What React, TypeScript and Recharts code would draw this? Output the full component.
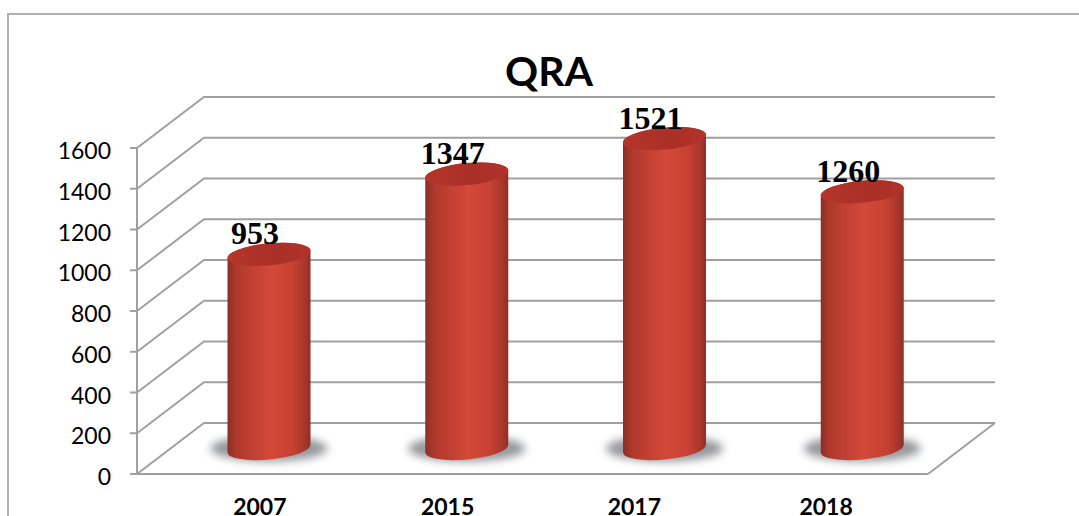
import React from 'react';
import { BarChart, Bar, XAxis, YAxis, CartesianGrid, LabelList } from 'recharts';

const years = ['2007', '2015', '2017', '2018'];
const counts = [953, 1347, 1521, 1260];
const yTicks = [0, 200, 400, 600, 800, 1000, 1200, 1400, 1600];

const tableData = years.map((year, i) => ({ year, count: counts[i] }));

const GRID = '#a0a0a0';
const DEPTH_X = 67;
const DEPTH_Y = 51;
const TILT = 4;
const RY = 11;
const ANGLE = -5.5;
// the year labels sit unevenly under the bars in the original
const TICK_NUDGE = [24, 14, 3, -3];

const gridLine = (props: any) => {
    const { x1, x2, y1, index } = props;
    const isFloor = y1 > 470;
    return (
        <g key={`grid-${index}`} fill="none" stroke={GRID} strokeWidth={2}>
            <path d={`M${x1},${y1} L${x1 + DEPTH_X},${y1 - DEPTH_Y} L${x2 + DEPTH_X},${y1 - DEPTH_Y}`} />
            {isFloor && <path d={`M${x2},${y1} L${x2 + DEPTH_X},${y1 - DEPTH_Y}`} />}
        </g>
    );
};

const Cylinder = (props: any) => {
    const { x, y, width, height } = props;
    const rx = width / 2;
    const cx = x + rx + DEPTH_X / 2;
    const top = y - DEPTH_Y / 2;
    const base = y + height - DEPTH_Y / 2;
    const r = Math.hypot(rx, TILT);
    const left = cx - rx;
    const right = cx + rx;
    return (
        <g>
            <ellipse cx={cx} cy={base} rx={rx + 17} ry={RY + 2} fill="#7c7e82" opacity={0.8} filter="url(#baseShadow)" />
            <path
                d={`M${left},${top + TILT} L${left},${base + TILT} A${r},${RY} ${ANGLE} 0 0 ${right},${base - TILT} L${right},${top - TILT} A${r},${RY} ${ANGLE} 0 0 ${left},${top + TILT} Z`}
                fill="url(#cylSide)"
            />
            <ellipse cx={cx} cy={top} rx={r} ry={RY} fill="url(#cylTop)" transform={`rotate(${ANGLE} ${cx} ${top})`} />
        </g>
    );
};

const YearTick = (props: any) => {
    const { x, y, payload, index } = props;
    return (
        <text x={x + TICK_NUDGE[index]} y={y} textAnchor="middle" fontFamily="Lato" fontWeight={700} fontSize={23} fill="#000">
            {payload.value}
        </text>
    );
};

const CountLabel = (props: any) => {
    const { x, y, width, value } = props;
    return (
        <text
            x={x + width / 2 + DEPTH_X / 2 - 14}
            y={y - DEPTH_Y / 2 - 10}
            textAnchor="middle"
            fontFamily="Liberation Serif"
            fontWeight={700}
            fontSize={32}
            fill="#000"
        >
            {value}
        </text>
    );
};

export default function App() {
    return (
        <div style={{ position: 'absolute', left: 0, top: 0, width: 1079, height: 516, overflow: 'hidden', background: '#fff' }}>
            <div style={{ position: 'absolute', left: 7, top: 13, width: 1072, height: 503, borderLeft: '2px solid #b0b0b0', borderTop: '2px solid #b0b0b0' }} />
            <div style={{ position: 'absolute', left: 0, top: 0 }}>
                <BarChart
                    width={1079}
                    height={516}
                    data={tableData}
                    barCategoryGap={0}
                    margin={{ top: 148, right: 151, bottom: 12, left: 0 }}
                >
                    <defs>
                        <linearGradient id="cylSide" x1="0" y1="0" x2="1" y2="0">
                            <stop offset="0%" stopColor="#8c2e25" />
                            <stop offset="10%" stopColor="#ad382c" />
                            <stop offset="30%" stopColor="#c24033" />
                            <stop offset="52%" stopColor="#d44938" />
                            <stop offset="78%" stopColor="#c84132" />
                            <stop offset="93%" stopColor="#a8362b" />
                            <stop offset="100%" stopColor="#8e3027" />
                        </linearGradient>
                        <linearGradient id="cylTop" x1="0" y1="0" x2="1" y2="0">
                            <stop offset="0%" stopColor="#b5352b" />
                            <stop offset="60%" stopColor="#a92f27" />
                            <stop offset="100%" stopColor="#b23329" />
                        </linearGradient>
                        <filter id="baseShadow" x="-20%" y="-50%" width="140%" height="200%">
                            <feGaussianBlur stdDeviation="4" />
                        </filter>
                    </defs>
                    <text x={549} y={86} textAnchor="middle" fontFamily="Lato" fontWeight={700} fontSize={41} fill="#000">
                        QRA
                    </text>
                    <CartesianGrid vertical={false} horizontal={gridLine} />
                    <XAxis
                        dataKey="year"
                        axisLine={{ stroke: GRID, strokeWidth: 2 }}
                        tickLine={false}
                        tick={<YearTick />}
                        tickMargin={35}
                        interval={0}
                    />
                    <YAxis
                        width={137}
                        domain={[0, 1600]}
                        ticks={yTicks}
                        interval={0}
                        axisLine={{ stroke: GRID, strokeWidth: 2 }}
                        tickLine={{ stroke: GRID, strokeWidth: 2 }}
                        tickSize={7}
                        tickMargin={19}
                        tick={{ fill: '#000', fontFamily: 'Lato', fontSize: 23, dy: 3 }}
                    />
                    <Bar dataKey="count" barSize={83} shape={<Cylinder />} isAnimationActive={false}>
                        <LabelList dataKey="count" content={<CountLabel />} />
                    </Bar>
                </BarChart>
            </div>
        </div>
    );
}
